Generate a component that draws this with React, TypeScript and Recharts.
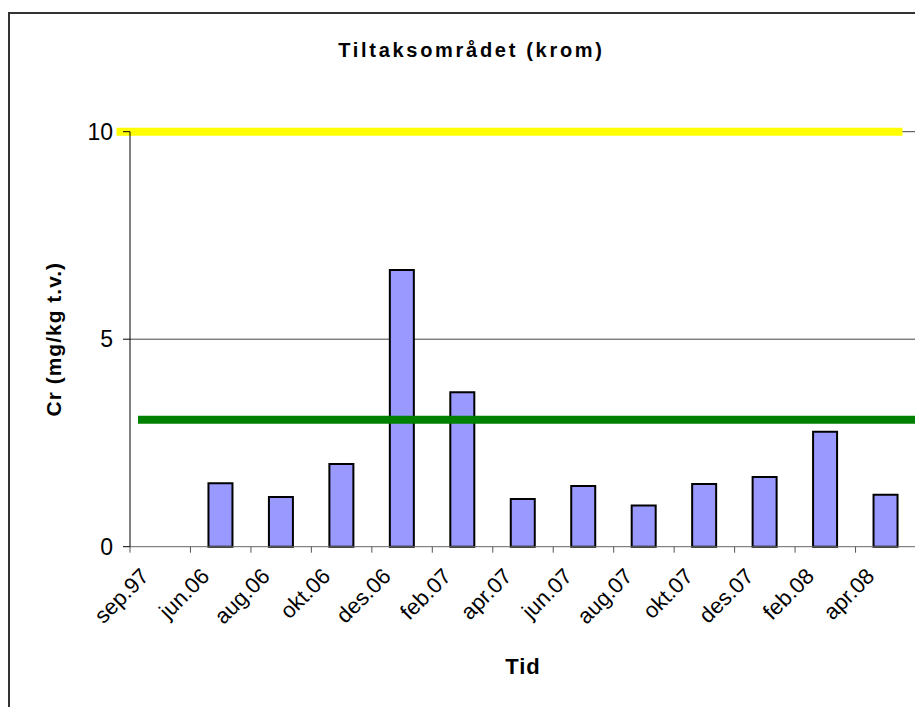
import React from 'react';
import {
  BarChart,
  Bar,
  XAxis,
  YAxis,
  CartesianGrid,
  ReferenceLine,
} from 'recharts';

// sampling dates and Cr values (mg/kg t.v.)
const categories = [
  'sep.97', 'jun.06', 'aug.06', 'okt.06', 'des.06', 'feb.07', 'apr.07',
  'jun.07', 'aug.07', 'okt.07', 'des.07', 'feb.08', 'apr.08',
];
const crValues = [null, 1.53, 1.2, 1.99, 6.67, 3.72, 1.15, 1.46, 0.99, 1.51, 1.68, 2.77, 1.25];
const yTicks = [0, 5, 10];
const upperLimit = 10;
const lowerLimit = 3.06;

const data = categories.map((tid, i) => ({ tid, cr: crValues[i] }));

const FONT = '"Liberation Sans", Arial, sans-serif';

const XTick = (props: any) => {
  const { x, y, payload, index, width } = props;
  const half = payload?.offset || width / categories.length / 2;
  const tx = x - 10;
  const ty = y + 31;
  return (
    <g>
      <line x1={x - half} x2={x - half} y1={y} y2={y + 6} stroke="#555" />
      {index === categories.length - 1 && (
        <line x1={x + half} x2={x + half} y1={y} y2={y + 6} stroke="#555" />
      )}
      <text
        x={tx}
        y={ty}
        transform={`rotate(-45, ${tx}, ${ty})`}
        textAnchor="end"
        fontFamily={FONT}
        fontSize={22}
        fill="#000"
      >
        {payload.value}
      </text>
    </g>
  );
};

const shiftedLine = (dx: number, color: string) => (p: any) => (
  <line x1={p.x1 + dx} x2={p.x2 + dx} y1={p.y1} y2={p.y2} stroke={color} strokeWidth={8} />
);

export default function App() {
  return (
    <div style={{ position: 'relative', width: 915, height: 699, overflow: 'hidden', background: '#fff' }}>
      <div
        style={{
          position: 'absolute',
          left: 0,
          top: 4,
          width: 1000,
          height: 1000,
          borderLeft: '2px solid #333',
          borderTop: '2px solid #333',
        }}
      />
      <div
        style={{
          position: 'absolute',
          left: 0,
          width: 927,
          top: 32,
          textAlign: 'center',
          fontFamily: FONT,
          fontWeight: 'bold',
          fontSize: 20,
          lineHeight: '20px',
          letterSpacing: 2.7,
        }}
      >
        Tiltaksområdet (krom)
      </div>
      <BarChart
        width={915}
        height={699}
        data={data}
        margin={{ top: 123.7, right: 7, bottom: 20.3, left: 62 }}
        style={{ position: 'absolute', left: 0, top: 0 }}
      >
        <CartesianGrid vertical={false} stroke="#444" horizontalValues={[5, 10]} />
        <XAxis
          dataKey="tid"
          interval={0}
          height={140}
          tickSize={0}
          tickMargin={0}
          tickLine={false}
          axisLine={{ stroke: '#666' }}
          tick={<XTick />}
          label={{
            content: (p: any) => (
              <text
                x={p.viewBox.x + p.viewBox.width / 2}
                y={p.viewBox.y + 127}
                textAnchor="middle"
                fontFamily={FONT}
                fontWeight="bold"
                fontSize={22}
                letterSpacing={1}
                fill="#000"
              >
                Tid
              </text>
            ),
          }}
        />
        <YAxis
          width={60}
          domain={[0, 10]}
          ticks={yTicks}
          interval={0}
          tickSize={7}
          tickMargin={10}
          axisLine={{ stroke: '#000' }}
          tickLine={{ stroke: '#000' }}
          tick={{ fontFamily: FONT, fontSize: 23, fill: '#000' }}
          label={{
            content: (p: any) => {
              const cx = p.viewBox.x - 16;
              const cy = p.viewBox.y + p.viewBox.height / 2;
              return (
                <text
                  x={cx}
                  y={cy}
                  transform={`rotate(-90, ${cx}, ${cy})`}
                  textAnchor="middle"
                  dominantBaseline="central"
                  fontFamily={FONT}
                  fontWeight="bold"
                  fontSize={21}
                  letterSpacing={1}
                  fill="#000"
                >
                  Cr (mg/kg t.v.)
                </text>
              );
            },
          }}
        />
        <Bar
          dataKey="cr"
          fill="#9999FF"
          stroke="#000"
          strokeWidth={2}
          barSize={24}
          isAnimationActive={false}
        />
        <ReferenceLine y={upperLimit} ifOverflow="visible" shape={shiftedLine(-13.5, '#FFFF00')} />
        <ReferenceLine y={lowerLimit} ifOverflow="visible" shape={shiftedLine(8, '#008000')} />
      </BarChart>
    </div>
  );
}
